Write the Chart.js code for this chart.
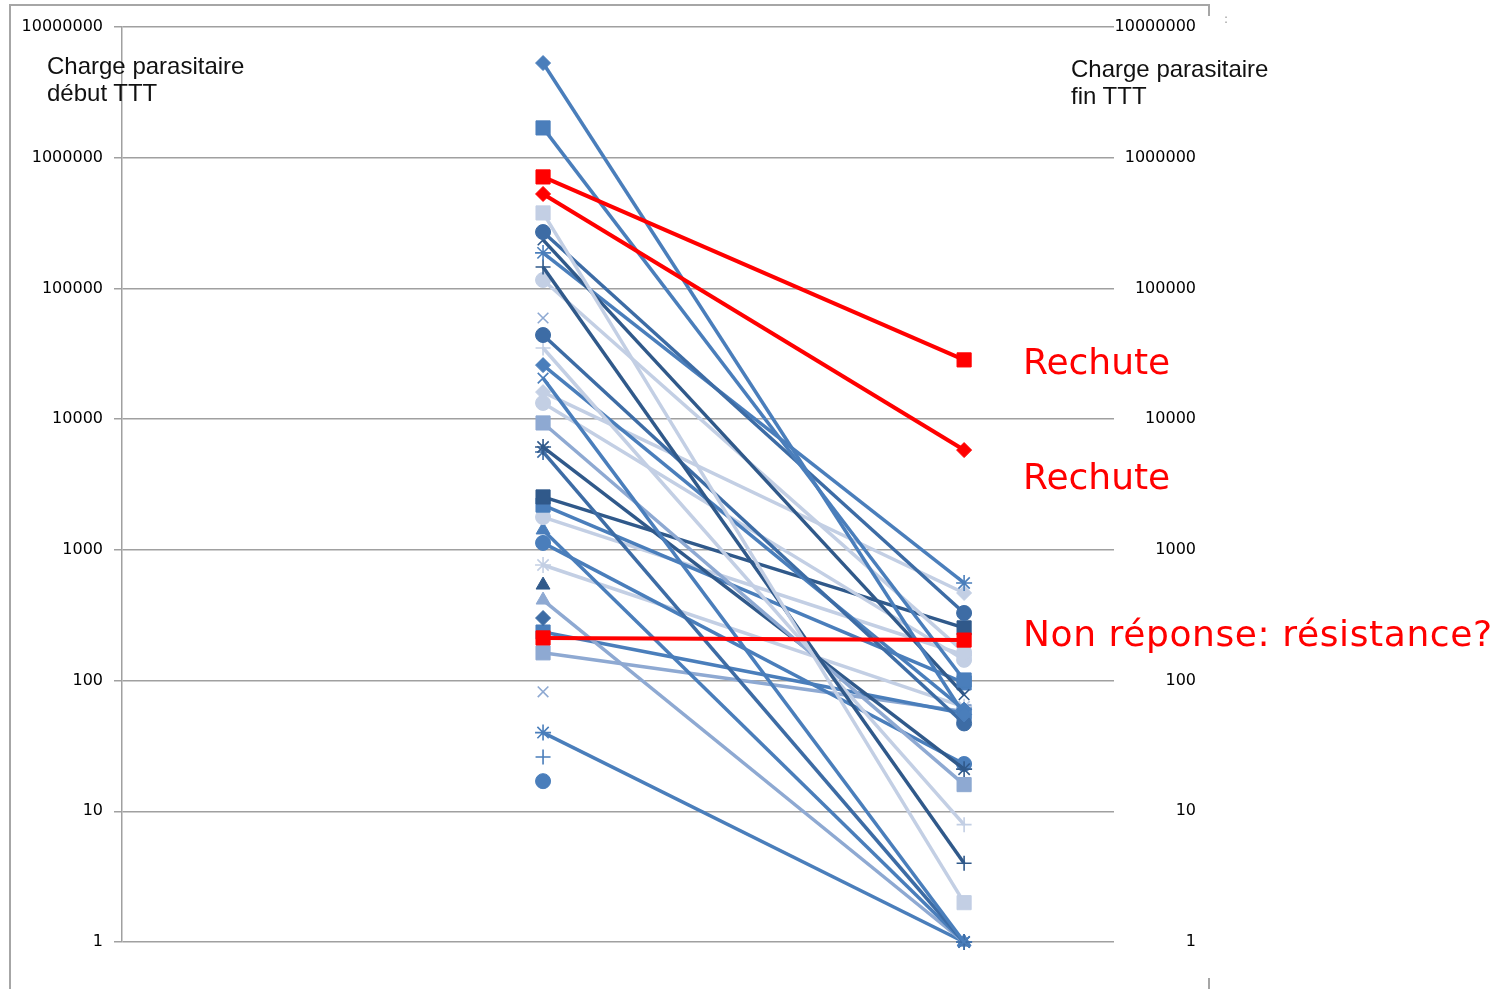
<!DOCTYPE html>
<html lang="fr">
<head>
<meta charset="utf-8">
<title>Charge parasitaire début / fin TTT</title>
<script src="https://cdn.jsdelivr.net/npm/chart.js@4/dist/chart.umd.min.js"></script>
<style>
  html, body { margin: 0; padding: 0; background: #ffffff; }
  #wrap { position: relative; width: 1512px; height: 989px; overflow: hidden; background: #ffffff; }
  #chart { position: absolute; left: 0; top: 0; }
  .rule { position: absolute; background: #a6a6a6; }
  .axis-title {
    position: absolute; white-space: nowrap; color: #111111;
    font-family: "Liberation Sans", Arial, sans-serif; font-size: 24px; line-height: 27px;
  }
  .note {
    position: absolute; white-space: nowrap; color: #ff0000;
    font-family: "DejaVu Sans", sans-serif; font-size: 36px; line-height: 36px;
  }
  .dots { position: absolute; color: #9a9a9a; font-family: "DejaVu Sans", sans-serif; font-size: 12px; }
</style>
</head>
<body>
<div id="wrap">
  <canvas id="chart" width="1512" height="989"></canvas>

  <div class="rule" style="left:9px; top:4px; width:1201px; height:2px;"></div>
  <div class="rule" style="left:9px; top:4px; width:2px; height:990px;"></div>
  <div class="rule" style="left:1208px; top:4px; width:2px; height:12px;"></div>
  <div class="rule" style="left:1208px; top:978px; width:2px; height:12px;"></div>
  <div class="dots" style="left:1224px; top:12px;">:</div>

  <div class="axis-title" style="left:47px; top:52px;">Charge parasitaire<br>début TTT</div>
  <div class="axis-title" style="left:1071px; top:55px;">Charge parasitaire<br>fin TTT</div>

  <div class="note" style="left:1023px; top:344px;">Rechute</div>
  <div class="note" style="left:1023px; top:459px;">Rechute</div>
  <div class="note" style="left:1023px; top:616px; letter-spacing:0.6px;">Non réponse: résistance?</div>
</div>

<script>
// Two measurement times, one line per patient
const stages = ['début TTT', 'fin TTT'];

// Log axis ticks (parasites / µL)
const tickValues = [1, 10, 100, 1000, 10000, 100000, 1000000, 10000000];
const tickLabels = ['1', '10', '100', '1000', '10000', '100000', '1000000', '10000000'];

// Parasite load at start of treatment
const chargeDebut = [
  5300000, 1690000, 713000, 528000, 378000, 270000, 235000, 187000, 146000, 116000,
  59400, 44000, 35000, 25900, 20600, 16100, 13300, 9350, 6120, 5610,
  2540, 2200, 1780, 1420, 1130, 766, 538, 413, 301, 235,
  212, 163, 82, 40, 26, 17
];

// Parasite load at end of treatment (null = not measured)
const chargeFin = [
  55, 101, 28400, 5800, 2, 329, 78, 558, 4, 165,
  null, 47, 7.9, 60, 1, 468, 144, 16, 21, 1,
  253, 96, 157, 1, 23, 63, null, 1, null, 56,
  204, 58, null, 1, null, null
];

// Outcome per patient
const evolution = chargeDebut.map(() => 'réponse');
evolution[2] = 'rechute';
evolution[3] = 'rechute';
evolution[30] = 'non réponse';

// Line shade and marker shape per patient series
const seriesTone = [
  'mid', 'mid', 'red', 'red', 'light', 'midDark', 'dark', 'mid', 'dark', 'light',
  'lightMid', 'midDark', 'light', 'mid', 'mid', 'light', 'light', 'lightMid', 'dark', 'midDark',
  'dark', 'mid', 'light', 'mid', 'mid', 'light', 'dark', 'lightMid', 'midDark', 'mid',
  'red', 'lightMid', 'lightMid', 'mid', 'mid', 'mid'
];
const seriesMarker = [
  'rectRot', 'rect', 'rect', 'rectRot', 'rect', 'circle', 'crossRot', 'star', 'cross', 'circle',
  'crossRot', 'circle', 'cross', 'rectRot', 'crossRot', 'rectRot', 'circle', 'rect', 'star', 'star',
  'rect', 'rect', 'circle', 'triangle', 'circle', 'star', 'triangle', 'triangle', 'rectRot', 'rect',
  'rect', 'rect', 'crossRot', 'star', 'cross', 'circle'
];

const PALETTE = {
  dark: '#30598a',
  midDark: '#3d6ca5',
  mid: '#4a7ebb',
  lightMid: '#8ea9d2',
  light: '#c3cfe4',
  red: '#ff0000'
};
const MARKER_RADIUS = { rect: 10, rectRot: 7.5, circle: 7.5, triangle: 8, cross: 7.5, crossRot: 7.5, star: 8 };
const STROKED = { cross: true, crossRot: true, star: true };

const datasets = chargeDebut.map((start, i) => {
  const isRed = evolution[i] !== 'réponse';
  const color = isRed ? PALETTE.red : PALETTE[seriesTone[i]];
  const shape = seriesMarker[i];
  const points = [{ x: 1, y: start }];
  if (chargeFin[i] !== null) points.push({ x: 2, y: chargeFin[i] });
  return {
    label: 'Patient ' + (i + 1),
    data: points,
    showLine: true,
    borderColor: color,
    backgroundColor: color,
    borderWidth: isRed ? 4 : 3.5,
    pointStyle: shape,
    pointRadius: MARKER_RADIUS[shape],
    pointBorderWidth: STROKED[shape] ? 1.6 : 1,
    pointBorderColor: color,
    pointBackgroundColor: color,
    tension: 0,
    clip: false,
    order: isRed ? 0 : 1
  };
});

const tickFont = { family: 'DejaVu Sans', size: 16 };
const powersOfTen = scale => { scale.ticks = tickValues.map(v => ({ value: v })); };

new Chart(document.getElementById('chart'), {
  type: 'scatter',
  data: { labels: stages, datasets },
  options: {
    responsive: false,
    animation: false,
    events: [],
    layout: { padding: { top: 27, bottom: 47, left: 0, right: 316 } },
    plugins: { legend: { display: false }, tooltip: { enabled: false } },
    scales: {
      x: { type: 'linear', min: 0, max: 2.356, display: false },
      y: {
        type: 'logarithmic', position: 'left', min: 1, max: 10000000,
        afterBuildTicks: powersOfTen,
        afterFit: s => { s.width = 122; },
        grid: { color: '#a0a0a0', lineWidth: 1.5, drawTicks: true, tickLength: 8 },
        border: { display: true, color: '#a0a0a0', width: 1.5 },
        ticks: {
          font: tickFont, color: '#000000', padding: 11, autoSkip: false,
          callback: (v, i) => tickLabels[i]
        }
      },
      y2: {
        type: 'logarithmic', position: 'right', min: 1, max: 10000000,
        afterBuildTicks: powersOfTen,
        afterFit: s => { s.width = 82; },
        grid: { display: false, drawTicks: false },
        border: { display: false },
        ticks: {
          font: tickFont, color: '#000000', padding: 0, crossAlign: 'far', autoSkip: false,
          callback: (v, i) => tickLabels[i]
        }
      }
    }
  }
});
</script>
</body>
</html>
